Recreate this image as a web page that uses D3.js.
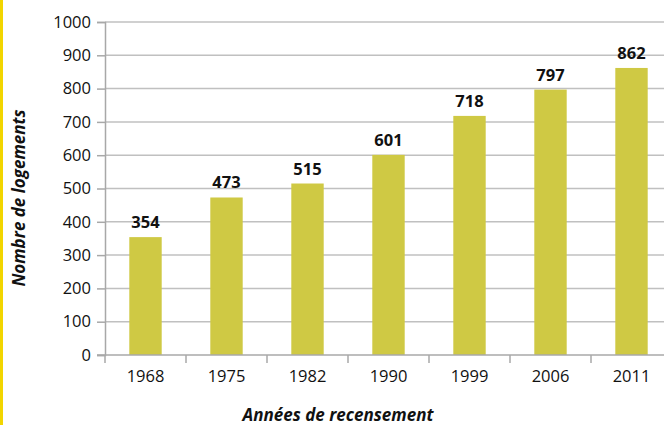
<!DOCTYPE html>
<html>
<head>
<meta charset="utf-8">
<script src="https://cdn.jsdelivr.net/npm/d3@7"></script>
<style>
body { margin: 0; background: #fff; }
svg { display: block; font-family: "Open Sans", sans-serif; }
</style>
</head>
<body>
<svg id="chart" width="664" height="425"></svg>
<script>
var years = ["1968", "1975", "1982", "1990", "1999", "2006", "2011"];
var logements = [354, 473, 515, 601, 718, 797, 862];
var yTicks = [0, 100, 200, 300, 400, 500, 600, 700, 800, 900, 1000];

var svg = d3.select("#chart");

// yellow side rule
svg.append("rect").attr("x", 0).attr("y", 0).attr("width", 3).attr("height", 425).attr("fill", "#f2d500");

var x = d3.scaleBand().domain(years).range([105, 672]).paddingInner(0).paddingOuter(0);
var y = d3.scaleLinear().domain([0, 1000]).range([355, 22]);

// grid
svg.append("g").selectAll("line").data(yTicks.slice(1)).join("line")
	.attr("x1", 105).attr("x2", 664)
	.attr("y1", d => y(d)).attr("y2", d => y(d))
	.attr("stroke", "#c0c0c0").attr("stroke-width", 1.5);

// bars
svg.append("g").selectAll("rect").data(logements).join("rect")
	.attr("x", (d, i) => x(years[i]) + x.bandwidth() * 0.3)
	.attr("width", x.bandwidth() * 0.4)
	.attr("y", d => y(d))
	.attr("height", d => y(0) - y(d))
	.attr("fill", "#cfc944");

// value labels
svg.append("g").selectAll("text").data(logements).join("text")
	.attr("x", (d, i) => x(years[i]) + x.bandwidth() / 2)
	.attr("y", d => y(d) - 9)
	.attr("text-anchor", "middle")
	.attr("font-size", 16.5).attr("font-weight", "bold").attr("fill", "#111")
	.text(d => d);

// y axis
var yAxis = svg.append("g").attr("transform", "translate(105,0)")
	.call(d3.axisLeft(y).tickValues(yTicks).tickFormat(d3.format("d")).tickSize(8).tickPadding(6));
// x axis
var xAxis = svg.append("g").attr("transform", "translate(0,355)")
	.call(d3.axisBottom(x).tickSize(0).tickPadding(15));
xAxis.append("g").selectAll("line").data(years.slice(1)).join("line")
	.attr("x1", d => x(d)).attr("x2", d => x(d))
	.attr("y1", 0).attr("y2", 8)
	.attr("stroke", "#a8a8a8").attr("stroke-width", 1.5);
xAxis.append("line").attr("x1", 105).attr("x2", 105).attr("y1", 0).attr("y2", 8)
	.attr("stroke", "#a8a8a8").attr("stroke-width", 1.5);

[yAxis, xAxis].forEach(function(a){
	a.select(".domain").attr("stroke", "#a8a8a8").attr("stroke-width", 1.5);
	a.selectAll(".tick line").attr("stroke", "#a8a8a8").attr("stroke-width", 1.5);
	a.selectAll("text").attr("font-size", 16.5).attr("fill", "#111").attr("font-family", "Open Sans, sans-serif");
});
xAxis.select(".domain").attr("d", "M97,0H664");

// titles
svg.append("text")
	.attr("transform", "translate(25,198) rotate(-90)")
	.attr("text-anchor", "middle")
	.attr("font-size", 17).attr("font-weight", "bold").attr("font-style", "italic").attr("fill", "#111")
	.text("Nombre de logements");
svg.append("text")
	.attr("x", 338).attr("y", 421)
	.attr("text-anchor", "middle")
	.attr("font-size", 17).attr("font-weight", "bold").attr("font-style", "italic").attr("fill", "#111")
	.text("Années de recensement");
</script>
</body>
</html>
